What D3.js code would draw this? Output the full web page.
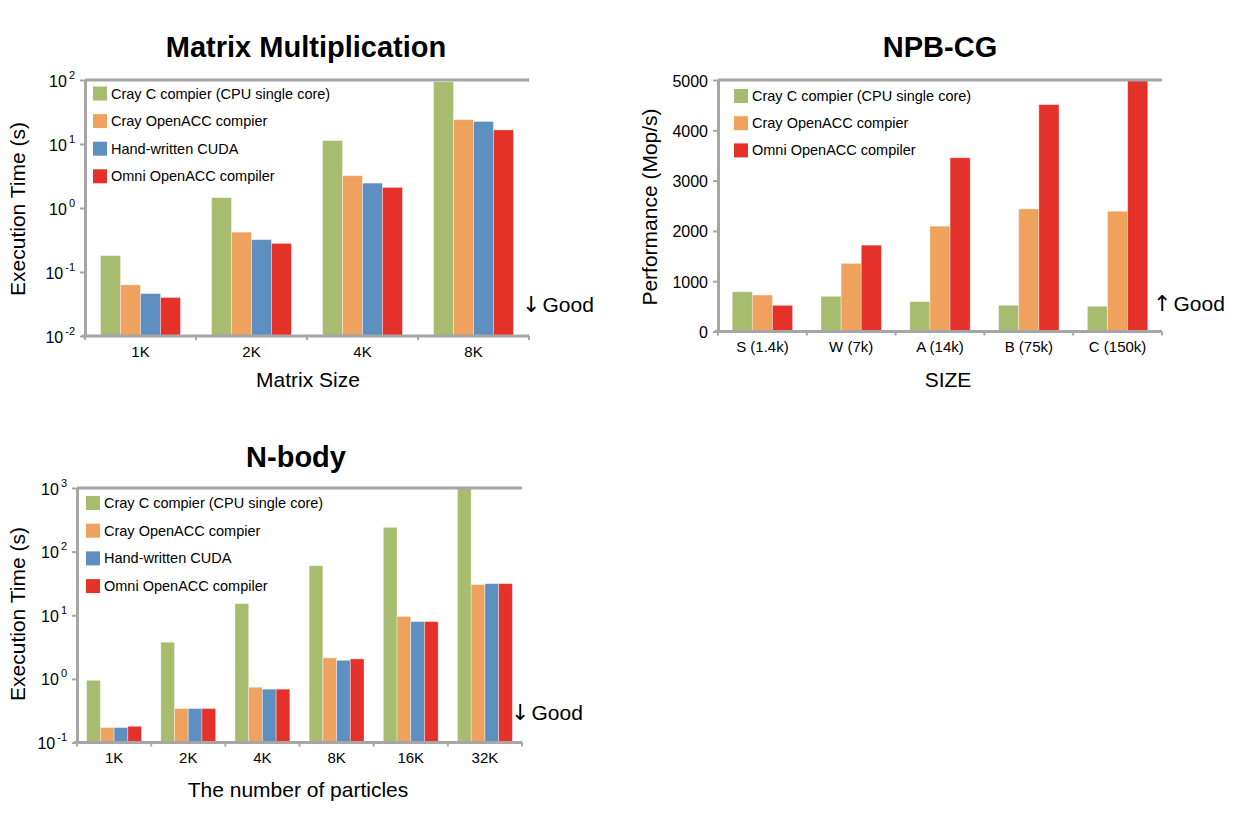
<!DOCTYPE html>
<html><head><meta charset="utf-8">
<script src="https://cdn.jsdelivr.net/npm/d3@7"></script>
<style>
body{margin:0;background:#fff;}
text{font-family:"Liberation Sans",Arial,sans-serif;fill:#000;}
</style></head>
<body>
<script>
// ---------- DATA ----------
const seriesNames4 = ["Cray C compier (CPU single core)", "Cray OpenACC compier", "Hand-written CUDA", "Omni OpenACC compiler"];
const seriesNames3 = ["Cray C compier (CPU single core)", "Cray OpenACC compier", "Omni OpenACC compiler"];
const colors4 = ["#a7bc6e", "#efa25e", "#5e8fc1", "#e4322b"];
const colors3 = ["#a7bc6e", "#efa25e", "#e4322b"];

// Matrix Multiplication (execution time, s)
const mmCategories = ["1K", "2K", "4K", "8K"];
const mmCrayC   = [0.18, 1.45, 11.3, 94];
const mmCrayACC = [0.063, 0.42, 3.2, 24];
const mmCUDA    = [0.046, 0.32, 2.45, 22.5];
const mmOmni    = [0.040, 0.28, 2.1, 16.6];
const mmTicks = [0.01, 0.1, 1, 10, 100];
const mmTickExp = ["-2", "-1", "0", "1", "2"];

// NPB-CG (performance, Mop/s)
const cgCategories = ["S (1.4k)", "W (7k)", "A (14k)", "B (75k)", "C (150k)"];
const cgCrayC   = [790, 700, 594, 522, 502];
const cgCrayACC = [725, 1354, 2094, 2437, 2391];
const cgOmni    = [520, 1717, 3454, 4511, 5000];
const cgTicks = [0, 1000, 2000, 3000, 4000, 5000];

// N-body (execution time, s)
const nbCategories = ["1K", "2K", "4K", "8K", "16K", "32K"];
const nbCrayC   = [0.95, 3.77, 15.2, 60, 241, 1000];
const nbCrayACC = [0.172, 0.342, 0.74, 2.14, 9.6, 30.3];
const nbCUDA    = [0.172, 0.342, 0.69, 1.96, 7.95, 31.4];
const nbOmni    = [0.18, 0.342, 0.69, 2.06, 7.95, 31.4];
const nbTicks = [0.1, 1, 10, 100, 1000];
const nbTickExp = ["-1", "0", "1", "2", "3"];

// ---------- DRAW ----------
const svg = d3.select("body").append("svg").attr("width", 1242).attr("height", 823);
const GREY = "#a6a6a6";

function drawChart(c) {
  const g = svg.append("g");
  const x = d3.scaleBand().domain(c.cats).range([c.x0, c.x1]).paddingInner(c.pad).paddingOuter(c.pad / 2);
  const xs = d3.scaleBand().domain(d3.range(c.series.length)).range([0, x.bandwidth()]);
  const y = c.y;
  const yBase = c.y1;

  // bars
  c.series.forEach((vals, i) => {
    g.append("g").selectAll("rect").data(vals).join("rect")
      .attr("x", (d, j) => x(c.cats[j]) + xs(i))
      .attr("width", xs.bandwidth())
      .attr("y", d => y(d))
      .attr("height", d => yBase - y(d))
      .attr("fill", c.colors[i])
      .attr("stroke", "rgba(255,255,255,0.45)").attr("stroke-width", 0.8);
  });

  // top line
  g.append("line").attr("x1", c.x0).attr("x2", c.x1).attr("y1", c.y0).attr("y2", c.y0)
    .attr("stroke", GREY).attr("stroke-width", 3);

  // left axis
  const ya = g.append("g").attr("transform", `translate(${c.x0},0)`)
    .call(d3.axisLeft(y).tickValues(c.ticks).tickSize(5).tickSizeOuter(0).tickFormat(""));
  ya.select(".domain").attr("stroke", GREY).attr("stroke-width", 3);
  ya.selectAll(".tick line").attr("stroke", GREY).attr("stroke-width", 2);

  // y tick labels
  c.ticks.forEach((t, k) => {
    const tx = g.append("text").attr("x", c.x0 - 10).attr("y", y(t) + 6.5)
      .attr("text-anchor", "end").style("font-size", "16px");
    if (c.exps) {
      tx.append("tspan").text("10");
      tx.append("tspan").attr("dx", 2).attr("dy", -8).style("font-size", "11px").text(c.exps[k]);
    } else {
      tx.text(t);
    }
  });

  // bottom axis
  const xa = g.append("g").attr("transform", `translate(0,${yBase})`)
    .call(d3.axisBottom(x).tickSize(0).tickSizeOuter(0).tickPadding(c.xLabPad));
  xa.select(".domain").attr("stroke", GREY).attr("stroke-width", 3)
    .attr("d", `M${c.x0 - 3},0H${c.x1}`);
  xa.selectAll(".tick text").style("font-size", "15px")
    .style("font-family", '"Liberation Sans",Arial,sans-serif').attr("fill", "#000");
  // band boundary ticks
  const bounds = d3.range(c.cats.length + 1).map(k => c.x0 + k * x.step());
  g.append("g").selectAll("line").data(bounds).join("line")
    .attr("x1", d => d).attr("x2", d => d).attr("y1", yBase).attr("y2", yBase + 4)
    .attr("stroke", GREY).attr("stroke-width", 2);

  // legend
  c.names.forEach((n, i) => {
    const ly = c.legY + i * c.legStep;
    g.append("rect").attr("x", c.legX).attr("y", ly - 7).attr("width", 14).attr("height", 14)
      .attr("fill", c.colors[i]);
    g.append("text").attr("x", c.legX + 18).attr("y", ly + 5).style("font-size", "14.5px").text(n);
  });

  // title
  g.append("text").attr("x", c.titleX).attr("y", c.titleY).attr("text-anchor", "middle")
    .style("font-size", "29px").style("font-weight", "bold").text(c.title);
  // x title
  g.append("text").attr("x", c.xTitleX).attr("y", c.xTitleY).attr("text-anchor", "middle")
    .style("font-size", "21px").text(c.xTitle);
  // y title
  g.append("text").attr("transform", `translate(${c.yTitleX},${c.yTitleY}) rotate(-90)`)
    .attr("text-anchor", "middle").style("font-size", "21px").text(c.yTitle);
  // good
  const gt = g.append("text").attr("x", c.goodX).attr("y", c.goodY).style("font-size", "21px");
  gt.append("tspan").style("font-family", '"DejaVu Sans",sans-serif').style("font-size", "22px").text(c.arrow);
  gt.append("tspan").attr("dx", 2).text("Good");
}

// Matrix Multiplication
drawChart({
  cats: mmCategories, series: [mmCrayC, mmCrayACC, mmCUDA, mmOmni],
  colors: colors4, names: seriesNames4,
  x0: 85, x1: 529, y0: 80, y1: 336, pad: 0.28,
  y: d3.scaleLog().domain([0.01, 100]).range([336, 80]),
  ticks: mmTicks, exps: mmTickExp, xLabPad: 10,
  legX: 93, legY: 93.5, legStep: 27.6,
  title: "Matrix Multiplication", titleX: 306, titleY: 57,
  xTitle: "Matrix Size", xTitleX: 308, xTitleY: 387,
  yTitle: "Execution Time (s)", yTitleX: 25, yTitleY: 209,
  arrow: "\u2193", goodX: 522, goodY: 312
});

// NPB-CG
drawChart({
  cats: cgCategories, series: [cgCrayC, cgCrayACC, cgOmni],
  colors: colors3, names: seriesNames3,
  x0: 718, x1: 1162, y0: 80, y1: 331.5, pad: 0.32,
  y: d3.scaleLinear().domain([0, 5000]).range([331.5, 80]),
  ticks: cgTicks, exps: null, xLabPad: 10,
  legX: 734, legY: 96, legStep: 27.2,
  title: "NPB-CG", titleX: 940, titleY: 57,
  xTitle: "SIZE", xTitleX: 948, xTitleY: 387,
  yTitle: "Performance (Mop/s)", yTitleX: 657, yTitleY: 207,
  arrow: "\u2191", goodX: 1153, goodY: 311
});

// N-body
drawChart({
  cats: nbCategories, series: [nbCrayC, nbCrayACC, nbCUDA, nbOmni],
  colors: colors4, names: seriesNames4,
  x0: 77, x1: 522, y0: 488, y1: 742.5, pad: 0.26,
  y: d3.scaleLog().domain([0.1, 1000]).range([742.5, 488]),
  ticks: nbTicks, exps: nbTickExp, xLabPad: 10,
  legX: 86, legY: 503, legStep: 27.7,
  title: "N-body", titleX: 296, titleY: 467,
  xTitle: "The number of particles", xTitleX: 298, xTitleY: 797,
  yTitle: "Execution Time (s)", yTitleX: 25, yTitleY: 614,
  arrow: "\u2193", goodX: 511, goodY: 720
});
</script>
</body></html>
